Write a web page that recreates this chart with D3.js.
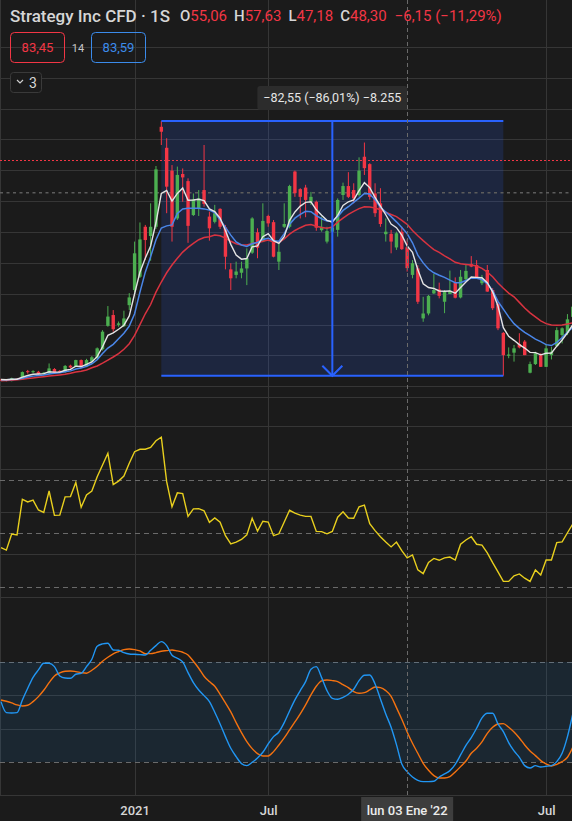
<!DOCTYPE html>
<html>
<head>
<meta charset="utf-8">
<script src="https://cdn.jsdelivr.net/npm/d3@7"></script>
<style>
  body { margin: 0; background: #1b1b1b; }
  svg { display: block; font-family: Roboto, "Noto Sans", sans-serif; }
</style>
</head>
<body>
<svg id="chart" width="572" height="821"></svg>
<script>
// weekly candles (index 0 = first bar on the left)
var openP = [12.1,12.2,11.7,12.5,12.3,14.9,14.6,14.7,14.0,14.2, 15.6,15.0,14.6,16.7,16.4,18.5,16.4,18.0,19.1,22.0,
  29.6,33.1,29.9,29.5,36.3,41.2,45.5,61.7,58.7,61.7, 94.1,87.3,79.9,64.4,78.8,76.5,65.5,67.7,73.6,65.0,
  63.3,67.5,61.5,47.9,46.1,46.8,48.2,53.3,59.9,56.9, 65.2,63.2,50.4,61.7,61.7,79.6,73.9,74.4,69.8,69.8,
  60.6,56.9,60.1,60.7,72.0,74.9,73.6,72.0,84.4,82.0, 72.5,69.3,59.3,59.4,55.0,60.1,55.06,46.1,48.2,32.0,
  33.6,40.1,41.4,37.4,39.9,43.5,38.8,44.7,49.6,49.3, 43.4,47.7,41.2,36.7,27.3,19.9,20.9,23.7,24.5,14.4,
  17.2,20.1,16.3,20.1,23.1,26.6,27.2,32.5];
var highP = [12.4,12.4,12.8,12.7,14.8,15.3,15.2,15.0,14.6,17.4, 15.9,15.3,16.9,17.0,18.6,18.7,18.9,19.8,22.6,28.2,
  36.0,34.7,31.0,34.5,40.2,56.9,63.1,62.3,69.3,81.4, 95.98,90.4,81.7,81.2,80.6,77.4,72.5,73.6,88.2,66.6,
  68.8,67.7,62.3,49.9,50.4,50.4,54.7,64.8,61.2,69.3, 65.6,63.9,56.3,69.3,75.3,79.9,74.2,75.3,73.0,70.2,
  65.0,61.7,63.9,70.9,76.0,79.4,75.8,84.2,89.0,82.3, 75.8,74.2,64.4,60.7,60.1,61.7,57.63,50.9,49.2,39.0,
  39.6,46.4,43.6,41.2,47.5,45.3,47.7,49.3,52.2,50.9, 46.1,49.3,41.8,37.4,27.6,22.6,23.4,27.2,25.0,18.0,
  21.2,20.7,23.7,22.8,29.1,29.1,33.4,37.0];
var lowP = [11.8,11.6,11.6,12.1,12.2,14.1,14.3,13.8,13.8,13.9, 14.2,14.3,14.4,15.8,16.2,16.0,16.2,17.9,18.9,21.6,
  29.3,27.7,29.3,29.2,34.7,40.5,45.1,50.9,50.7,61.0, 88.2,66.1,56.9,63.9,69.8,56.5,65.2,65.2,68.2,57.2,
  62.8,61.0,47.9,41.2,45.0,45.0,42.8,52.9,51.5,56.7, 61.7,51.8,47.7,61.3,61.2,71.4,64.4,64.8,68.8,60.4,
  60.1,56.3,56.3,58.5,70.4,71.0,69.3,71.5,78.5,70.5, 64.9,61.7,56.9,53.1,54.2,54.2,47.18,45.0,36.7,30.9,
  33.0,39.9,38.5,33.7,39.9,38.5,38.5,44.4,48.6,44.8, 42.8,40.6,34.7,28.2,13.43,19.1,18.0,22.3,20.1,14.2,
  16.9,16.3,16.3,18.7,22.8,23.9,26.6,32.0];
var closeP = [11.9,11.8,12.6,12.3,14.6,14.6,14.9,14.0,14.4,15.8, 14.4,14.6,16.6,16.1,18.5,16.2,18.5,19.4,22.3,27.7,
  32.6,28.5,30.4,32.0,38.8,53.1,57.6,57.4,61.7,80.3, 92.5,74.7,61.7,78.5,77.7,62.0,70.6,70.9,69.1,61.2,
  66.1,61.7,52.0,45.0,47.2,48.2,51.5,64.4,54.9,63.6, 62.8,52.0,53.6,62.6,74.9,72.6,71.4,70.4,71.4,61.4,
  61.7,60.3,61.5,70.4,74.9,71.4,70.9,79.9,80.7,71.4, 66.1,62.6,60.1,56.9,59.6,54.45,48.30,49.9,37.4,33.6,
  39.3,41.2,39.3,40.6,41.0,38.7,45.5,47.4,48.8,45.0, 45.0,40.7,35.3,28.8,20.1,20.3,22.3,22.6,20.1,17.2,
  20.7,16.3,22.3,21.2,28.2,28.8,31.7,35.8];

// moving averages (white / blue / red)
var maFast = [12.2,12.1,12.3,12.3,13.0,13.5,13.9,14.0,14.1,14.7, 14.6,14.6,15.2,15.5,16.5,16.4,17.1,17.9,19.6,22.8,
  26.5,27.3,28.5,29.8,32.8,40.0,47.0,51.5,55.5,63.0, 72.5,73.5,70.0,72.5,74.3,70.3,70.4,70.6,70.2,67.5,
  66.6,64.5,60.5,56.0,52.5,51.2,51.4,55.2,55.5,58.5, 59.5,57.2,56.3,58.5,63.8,66.5,68.4,69.6,69.8,67.2,
  65.4,63.8,63.2,65.4,68.6,69.8,70.4,73.4,76.0,74.4, 71.2,68.4,65.6,62.6,61.4,59.0,55.5,53.4,47.8,43.2,
  42.0,41.7,40.9,40.8,40.9,40.2,42.0,43.8,45.4,45.3, 45.2,43.6,40.6,36.0,29.0,26.2,24.9,23.5,22.4,21.0,
  20.9,20.2,20.7,20.8,23.0,25.0,27.3,30.0];
var maMid = [12.1,12.1,12.2,12.3,12.6,13.0,13.3,13.5,13.7,14.0, 14.2,14.4,14.7,15.0,15.6,15.9,16.5,17.3,18.6,20.6,
  22.4,23.6,25.4,27.2,29.5,33.5,40.5,47.0,52.0,57.5, 61.3,62.0,62.3,66.0,67.5,67.7,67.7,67.7,67.5,67.1,
  66.3,64.0,61.5,59.0,56.8,55.8,55.3,56.2,56.6,57.6, 58.0,57.2,57.0,59.5,62.5,64.5,65.7,66.7,66.6,65.3,
  64.3,63.6,63.6,65.0,67.0,68.2,69.6,71.0,72.5,72.3, 70.5,68.0,66.5,65.0,63.3,61.5,59.5,56.5,52.5,50.0,
  48.0,46.8,46.0,45.3,44.4,43.6,43.6,44.3,45.1,45.0, 44.6,43.3,41.0,37.5,35.0,32.5,30.3,28.8,27.5,26.4,
  25.3,24.5,23.5,23.2,24.2,25.8,27.5,29.2];
var maSlow = [11.8,11.9,12.0,12.1,12.3,12.5,12.7,12.9,13.1,13.3, 13.5,13.7,13.9,14.2,14.6,14.9,15.3,16.0,16.6,17.5,
  18.5,19.5,20.6,22.0,23.8,26.5,30.0,33.5,36.5,40.5, 43.8,46.8,49.3,51.5,53.5,55.0,56.3,57.5,58.2,58.5,
  59.0,58.8,58.0,57.0,56.2,55.8,55.8,56.3,56.5,57.0, 57.4,56.8,56.6,57.8,59.3,60.5,61.4,62.2,62.4,61.9,
  61.5,61.2,61.6,63.2,64.5,65.7,66.7,67.6,68.2,68.1, 67.8,67.2,66.4,65.7,65.0,63.8,62.5,60.5,58.8,57.2,
  55.7,54.3,53.4,52.3,51.3,50.2,49.7,49.5,49.3,49.0, 48.2,47.0,45.5,43.5,41.8,40.2,39.0,37.2,35.4,33.8,
  32.5,31.2,30.3,29.9,29.8,29.9,30.2,30.6];

// RSI pane
var rsi = [44.5,43.6,49.6,49.3,62.6,61.6,62.3,58.6,57.7,65.7, 56.6,56.7,63.5,63.6,68.9,59.6,64.2,65.7,71.0,75.4,
  79.8,68.1,69.4,71.3,76.1,80.4,81.3,81.3,82.0,84.5, 85.8,69.2,59.8,65.0,64.7,56.2,59.0,59.1,58.3,54.0,
  55.6,54.0,49.0,45.9,46.6,47.6,49.3,55.5,50.7,54.4, 54.1,49.0,49.7,54.1,58.5,57.4,56.7,56.2,56.2,50.6,
  50.5,49.7,50.6,55.9,57.9,55.6,55.5,59.8,60.4,53.5, 50.9,48.6,46.6,44.8,46.6,43.4,40.7,41.8,36.2,34.8,
  39.0,40.5,39.8,40.7,41.0,39.9,45.8,47.4,48.6,45.8, 45.5,42.6,38.9,35.5,31.9,31.9,34.0,34.7,33.1,31.9,
  36.2,34.3,39.9,39.9,46.4,46.7,50.1,53.4];
var rsiGrid = [26, 42, 58, 74, 90];
var rsiBands = [30, 50, 70];

// stochastic pane
var stochK = [56.2,49.6,49.4,49.6,57.2,64.2,70.8,75.2,79.2,79.2, 77.2,71.6,70.4,70.2,72.6,73.2,77.2,81.6,89.4,90.8,
  91.2,87.2,87.0,85.6,84.8,84.6,84.4,84.2,87.0,89.8, 92.2,89.8,84.0,82.2,80.0,73.6,67.6,63.2,59.8,56.2,
  49.8,42.8,35.2,28.2,23.2,19.0,17.8,19.8,22.4,25.8, 30.8,35.2,38.0,43.6,50.6,57.2,62.8,68.2,75.6,77.2,
  70.6,62.8,58.2,57.6,58.8,60.6,63.6,68.8,72.0,72.2, 66.8,57.8,48.8,40.8,30.4,18.8,14.2,11.0,9.0,8.2,
  8.2,8.4,11.0,12.8,14.8,18.6,24.2,30.0,34.6,40.2, 46.4,49.2,49.2,42.8,38.2,31.6,26.6,22.8,17.8,16.4,
  17.8,17.0,17.4,17.8,20.2,25.2,35.2,48.8];
var stochD = [57.2,56.4,55.4,54.2,53.6,54.0,56.2,59.2,63.0,67.6, 71.6,73.4,74.4,74.6,74.2,73.6,73.2,75.0,77.4,80.4,
  82.8,84.8,86.2,87.4,87.8,87.4,86.6,85.0,85.0,85.6, 86.4,86.8,87.2,86.6,85.8,84.2,80.4,76.2,71.4,68.2,
  65.4,60.6,55.4,50.0,43.6,37.6,32.2,28.0,25.0,23.6, 23.6,26.2,30.2,34.4,39.2,44.0,48.8,54.2,60.2,65.4,
  68.6,69.2,68.8,68.2,66.4,64.6,62.2,61.2,61.6,63.2, 65.0,64.6,62.8,59.4,52.6,45.6,38.0,31.2,25.2,19.2,
  15.0,11.8,10.4,10.4,11.2,14.0,17.2,20.6,25.2,28.2, 32.0,37.2,40.8,42.8,43.0,40.8,38.0,34.4,30.2,26.6,
  23.8,20.8,18.8,17.6,18.6,20.2,22.8,28.8];
var stochGrid = [40, 60];
var stochBands = [20, 80];

// time axis
var tickIdx = [25, 50, 102];
var tickLabels = ["2021", "Jul", "Jul"];
var crossIdx = 76;
var crossLabel = "lun 03 Ene '22";
var crossPrice = 72.74;

// legend / drawing
var title = "Strategy Inc CFD · 1S";
var boxValues = [83.45, 83.59];
var boxLength = 14;
var priceGrid = d3.range(10, 121, 10);
var measureFrom = 30, measureTo = 94;

var es = d3.formatLocale({decimal: ",", thousands: ".", grouping: [3], currency: ["", "€"], minus: "\u2212"});
var f2 = es.format(".2f");
var fInt = es.format(",d");

var colors = {bg: "#1b1b1b", grid: "#363636", dash: "#6a6a6a", up: "#4caf50", down: "#f23645",
  white: "#e4e4e4", blue: "#4a86e8", red: "#d93340", rsi: "#e8cf1e", k: "#2196f3", d: "#f57210",
  measure: "#2962ff", text: "#d6d6d6"};

var width = 572, height = 821;
var barStep = 5.344;

var svg = d3.select("#chart");
svg.append("rect").attr("width", width).attr("height", height).attr("fill", colors.bg);

var x = d3.scaleLinear().domain([0, 107]).range([1, 1 + 107 * barStep]);
var yP = d3.scaleLinear().domain([10, 100]).range([386.3, 108.6]);
var yR = d3.scaleLinear().domain([26, 90]).range([597.2, 426]);
var yS = d3.scaleLinear().domain([0, 100]).range([795.3, 628.6]);

var defs = svg.append("defs");
function clip(id, y0, y1) {
  defs.append("clipPath").attr("id", id).append("rect")
    .attr("x", 0).attr("y", y0).attr("width", width).attr("height", y1 - y0);
}
clip("cMain", 0, 397);
clip("cRsi", 398, 628);
clip("cStoch", 628, 795);

var bars = d3.range(closeP.length);

// ---- grid
var grid = svg.append("g").attr("shape-rendering", "crispEdges");
grid.selectAll(".vg").data(tickIdx).enter().append("line")
  .attr("x1", d => Math.round(x(d)) + 0.5).attr("x2", d => Math.round(x(d)) + 0.5)
  .attr("y1", 0).attr("y2", 795).attr("stroke", colors.grid);
grid.append("line").attr("x1", 0.5).attr("x2", 0.5).attr("y1", 0).attr("y2", 795).attr("stroke", colors.grid);

grid.selectAll(".pg").data(priceGrid).enter().append("line")
  .attr("x1", 0).attr("x2", width)
  .attr("y1", d => Math.round(yP(d)) + 0.5).attr("y2", d => Math.round(yP(d)) + 0.5)
  .attr("stroke", colors.grid);
grid.append("line").attr("x1", 0).attr("x2", width).attr("y1", 397.5).attr("y2", 397.5).attr("stroke", colors.grid);

grid.selectAll(".rg").data(rsiGrid).enter().append("line")
  .attr("x1", 0).attr("x2", width)
  .attr("y1", d => Math.round(yR(d)) + 0.5).attr("y2", d => Math.round(yR(d)) + 0.5)
  .attr("stroke", colors.grid);
grid.selectAll(".rb").data(rsiBands).enter().append("line")
  .attr("x1", 0).attr("x2", width)
  .attr("y1", d => Math.round(yR(d)) + 0.5).attr("y2", d => Math.round(yR(d)) + 0.5)
  .attr("stroke", colors.dash).attr("stroke-dasharray", "5,4");

// stochastic band
svg.append("rect").attr("x", 0).attr("width", width)
  .attr("y", yS(stochBands[1])).attr("height", yS(stochBands[0]) - yS(stochBands[1]))
  .attr("fill", "rgba(33,150,243,0.1)");
grid.selectAll(".sg").data(stochGrid).enter().append("line")
  .attr("x1", 0).attr("x2", width)
  .attr("y1", d => Math.round(yS(d)) + 0.5).attr("y2", d => Math.round(yS(d)) + 0.5)
  .attr("stroke", colors.grid);
grid.selectAll(".sb").data(stochBands).enter().append("line")
  .attr("x1", 0).attr("x2", width)
  .attr("y1", d => Math.round(yS(d)) + 0.5).attr("y2", d => Math.round(yS(d)) + 0.5)
  .attr("stroke", colors.dash).attr("stroke-dasharray", "5,4");
grid.append("line").attr("x1", 0).attr("x2", width).attr("y1", 795.5).attr("y2", 795.5).attr("stroke", colors.grid);

// ---- main pane
var main = svg.append("g").attr("clip-path", "url(#cMain)");

var mx0 = x(measureFrom), mx1 = x(measureTo);
var my0 = yP(highP[measureFrom]), my1 = yP(lowP[measureTo]);
main.append("rect").attr("x", mx0).attr("y", my0).attr("width", mx1 - mx0).attr("height", my1 - my0)
  .attr("fill", "rgba(41,98,255,0.16)");

// price line + crosshair
main.append("line").attr("x1", 0).attr("x2", width)
  .attr("y1", Math.round(yP(boxValues[0])) + 0.5).attr("y2", Math.round(yP(boxValues[0])) + 0.5)
  .attr("shape-rendering", "crispEdges")
  .attr("stroke", colors.down).attr("stroke-width", 1).attr("stroke-dasharray", "2,2");
main.append("line").attr("x1", 0).attr("x2", width)
  .attr("y1", yP(crossPrice)).attr("y2", yP(crossPrice))
  .attr("stroke", "#5c5c5c").attr("stroke-width", 1.5).attr("stroke-dasharray", "3,3.5");

main.selectAll(".wick").data(bars).enter().append("line")
  .attr("x1", i => x(i)).attr("x2", i => x(i))
  .attr("y1", i => yP(highP[i])).attr("y2", i => yP(lowP[i]))
  .attr("stroke", i => closeP[i] >= openP[i] ? colors.up : colors.down)
  .attr("stroke-width", 1);
main.selectAll(".body").data(bars).enter().append("rect")
  .attr("x", i => x(i) - 1.7).attr("width", 3.4)
  .attr("y", i => yP(Math.max(openP[i], closeP[i])))
  .attr("height", i => Math.max(1, Math.abs(yP(openP[i]) - yP(closeP[i]))))
  .attr("fill", i => closeP[i] >= openP[i] ? colors.up : colors.down);

var maLine = d3.line().x((d, i) => x(i)).y(d => yP(d));
main.append("path").datum(maSlow).attr("d", maLine).attr("fill", "none").attr("stroke", colors.red).attr("stroke-width", 1.5);
main.append("path").datum(maMid).attr("d", maLine).attr("fill", "none").attr("stroke", colors.blue).attr("stroke-width", 1.5);
main.append("path").datum(maFast).attr("d", maLine).attr("fill", "none").attr("stroke", colors.white).attr("stroke-width", 1.4);

// measure tool outline
var mxc = x((measureFrom + measureTo) / 2);
main.append("line").attr("x1", mx0).attr("x2", mx1).attr("y1", my0).attr("y2", my0).attr("stroke", colors.measure).attr("stroke-width", 2);
main.append("line").attr("x1", mx0).attr("x2", mx1).attr("y1", my1).attr("y2", my1).attr("stroke", colors.measure).attr("stroke-width", 2);
main.append("line").attr("x1", mxc).attr("x2", mxc).attr("y1", my0).attr("y2", my1).attr("stroke", colors.measure).attr("stroke-width", 2);
main.append("path").attr("d", "M" + (mxc - 10) + "," + (my1 - 10) + "L" + mxc + "," + my1 + "L" + (mxc + 10) + "," + (my1 - 10))
  .attr("fill", "none").attr("stroke", colors.measure).attr("stroke-width", 2);

var diff = lowP[measureTo] - highP[measureFrom];
var pct = diff / highP[measureFrom] * 100;
var measureText = f2(diff) + " (" + f2(pct) + "%) " + fInt(Math.round(diff * 100));
main.append("rect").attr("x", mxc - 75).attr("y", 86).attr("width", 150).attr("height", 24).attr("rx", 3)
  .attr("fill", "#2c2c2c");
main.append("text").attr("x", mxc).attr("y", 102).attr("text-anchor", "middle")
  .attr("fill", "#e6e6e6").attr("font-size", 12.5).text(measureText);

// ---- RSI pane
svg.append("path").datum(rsi).attr("clip-path", "url(#cRsi)")
  .attr("d", d3.line().x((d, i) => x(i)).y(d => yR(d)))
  .attr("fill", "none").attr("stroke", colors.rsi).attr("stroke-width", 1.4);

// ---- stochastic pane
var sLine = d3.line().x((d, i) => x(i)).y(d => yS(d)).curve(d3.curveMonotoneX);
var sg = svg.append("g").attr("clip-path", "url(#cStoch)");
sg.append("path").datum(stochD).attr("d", sLine).attr("fill", "none").attr("stroke", colors.d).attr("stroke-width", 1.4);
sg.append("path").datum(stochK).attr("d", sLine).attr("fill", "none").attr("stroke", colors.k).attr("stroke-width", 1.4);

// ---- crosshair vertical
svg.append("line").attr("x1", Math.round(x(crossIdx)) + 0.5).attr("x2", Math.round(x(crossIdx)) + 0.5)
  .attr("y1", 0).attr("y2", 797).attr("stroke", "#6a6a6a").attr("stroke-dasharray", "4,3");

// ---- time axis
var axis = d3.axisBottom(x).tickValues(tickIdx).tickFormat((d, i) => tickLabels[i]).tickSize(0).tickPadding(11);
var ax = svg.append("g").attr("transform", "translate(0,795)").call(axis);
ax.select(".domain").remove();
ax.selectAll("text").attr("fill", colors.text).attr("font-size", 13).attr("font-weight", 500)
  .attr("font-family", "Roboto, sans-serif");

svg.append("rect").attr("x", x(crossIdx) - 46).attr("y", 797).attr("width", 92).attr("height", 24)
  .attr("fill", "#3d3d3d");
svg.append("text").attr("x", x(crossIdx)).attr("y", 815).attr("text-anchor", "middle")
  .attr("fill", "#ececec").attr("font-size", 13).attr("font-weight", 500).text(crossLabel);

// ---- legend
svg.append("text").attr("x", 10).attr("y", 22).attr("font-size", 17).attr("font-weight", 500)
  .attr("fill", colors.text).text(title);
var head = svg.append("text").attr("x", 180).attr("y", 21).attr("font-size", 15).attr("fill", colors.text);
var chg = closeP[crossIdx] - closeP[crossIdx - 1];
var chgPct = chg / closeP[crossIdx - 1] * 100;
var ohlc = [["O", openP[crossIdx]], ["H", highP[crossIdx]], ["L", lowP[crossIdx]], ["C", closeP[crossIdx]]];
ohlc.forEach(function(p, k) {
  head.append("tspan").attr("dx", k == 0 ? 0 : 7).attr("font-weight", 500).attr("fill", colors.text).text(p[0]);
  head.append("tspan").attr("fill", colors.down).text(f2(p[1]));
});
head.append("tspan").attr("dx", 8).attr("fill", colors.down).text(f2(chg) + " (" + f2(chgPct) + "%)");

svg.append("rect").attr("x", 10.5).attr("y", 32.5).attr("width", 54).attr("height", 30).attr("rx", 4)
  .attr("fill", "none").attr("stroke", colors.down);
svg.append("text").attr("x", 37.5).attr("y", 52).attr("text-anchor", "middle").attr("font-size", 13)
  .attr("fill", colors.down).text(f2(boxValues[0]));
svg.append("text").attr("x", 78).attr("y", 52).attr("text-anchor", "middle").attr("font-size", 11)
  .attr("fill", "#c8c8c8").text(boxLength);
svg.append("rect").attr("x", 91.5).attr("y", 32.5).attr("width", 54).attr("height", 30).attr("rx", 4)
  .attr("fill", "none").attr("stroke", "#3b8beb");
svg.append("text").attr("x", 118.5).attr("y", 52).attr("text-anchor", "middle").attr("font-size", 13)
  .attr("fill", "#3b8beb").text(f2(boxValues[1]));

svg.append("rect").attr("x", 10.5).attr("y", 72.5).attr("width", 31).attr("height", 20).attr("rx", 3)
  .attr("fill", colors.bg).attr("stroke", "#3a3a3a");
svg.append("path").attr("d", "M17,80 L20,83 L23,80").attr("fill", "none").attr("stroke", "#cfcfcf").attr("stroke-width", 1.2);
svg.append("text").attr("x", 29).attr("y", 87.5).attr("font-size", 14).attr("fill", colors.text).text("3");
</script>
</body>
</html>
